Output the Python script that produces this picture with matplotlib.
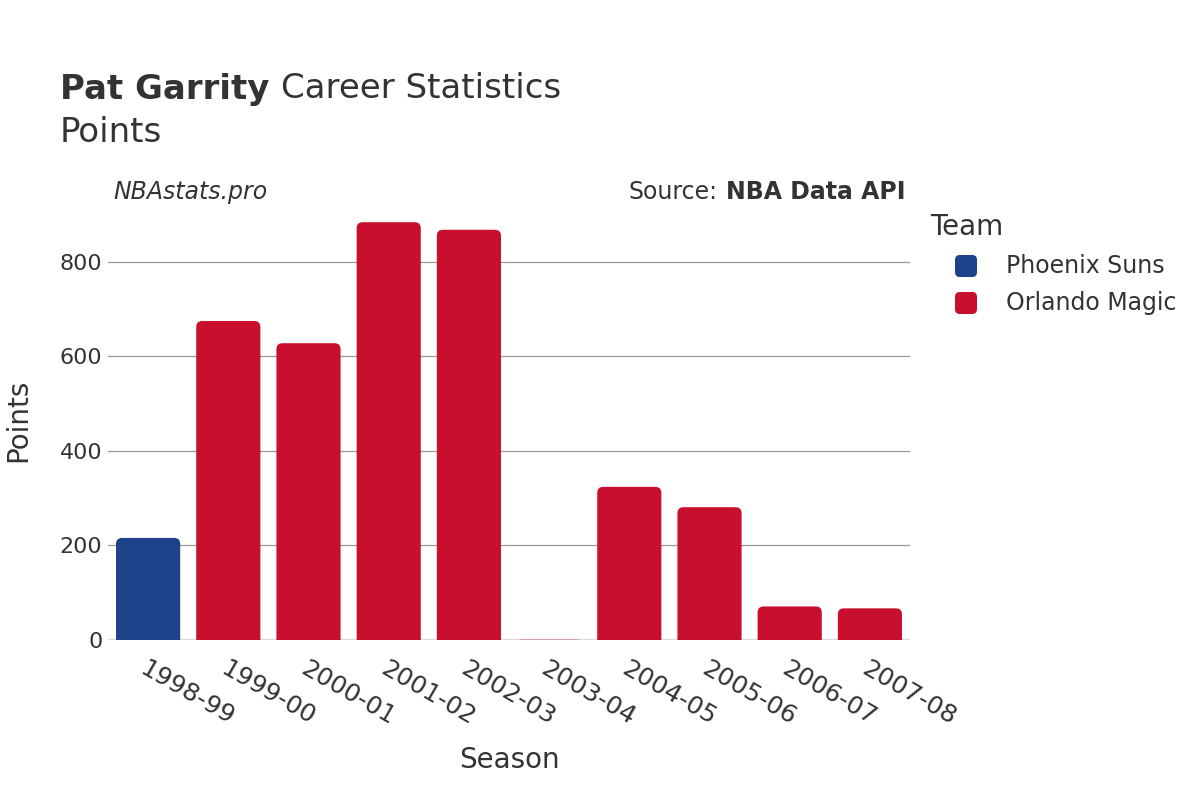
import matplotlib
matplotlib.use("Agg")
import matplotlib.pyplot as plt
from matplotlib.patches import FancyBboxPatch

seasons = ["1998-99", "1999-00", "2000-01", "2001-02", "2002-03",
           "2003-04", "2004-05", "2005-06", "2006-07", "2007-08"]
points = [216, 675, 628, 884, 868, 2, 324, 281, 71, 67]
teams = ["Phoenix Suns", "Orlando Magic", "Orlando Magic", "Orlando Magic", "Orlando Magic",
         "Orlando Magic", "Orlando Magic", "Orlando Magic", "Orlando Magic", "Orlando Magic"]
team_colors = {"Phoenix Suns": "#1D428A", "Orlando Magic": "#C8102E"}
legend_teams = ["Phoenix Suns", "Orlando Magic"]
yticks = [0, 200, 400, 600, 800]

W, H = 1200, 800
plt.rcParams['font.family'] = ['DejaVu Sans']
fig = plt.figure(figsize=(12, 8), dpi=100)
ax = fig.add_axes([108 / W, 1 - 640 / H, (910 - 108) / W, (640 - 200) / H])
ymax = 931
ax.set_xlim(-0.5, len(seasons) - 0.5)
ax.set_ylim(0, ymax)

x = list(range(len(seasons)))
bars = ax.bar(x, points, width=0.8, color=[team_colors[t] for t in teams], zorder=2)

bbox = ax.get_position()
px_w = bbox.width * W
px_h = bbox.height * H
xu_per_px = len(seasons) / px_w
yu_per_px = ymax / px_h
aspect = yu_per_px / xu_per_px
r = 6 * xu_per_px
for b in bars:
    b.set_visible(False)
    x0, w, h = b.get_x(), b.get_width(), b.get_height()
    ext = 8 * yu_per_px
    rr = min(r, (h + ext) / aspect / 2)
    p = FancyBboxPatch((x0, -ext), w, h + ext,
                       boxstyle=f"round,pad=0,rounding_size={rr}",
                       mutation_aspect=aspect, facecolor=b.get_facecolor(),
                       edgecolor="none", zorder=2, clip_on=True,
                       alpha=1.0 if h > 5 else 0.3)
    ax.add_patch(p)

ax.set_yticks(yticks)
ax.yaxis.grid(True, color="#999999", linewidth=0.9, zorder=0)
ax.axhline(0, color="#e6e6e6", linewidth=2.5, zorder=1)
for s in ax.spines.values():
    s.set_visible(False)
ax.tick_params(axis="both", length=0, colors="#333333")
ax.tick_params(axis="y", labelsize=16, pad=4)
ax.set_xticks(x)
ax.set_xticklabels(seasons, rotation=-30, ha="left", va="top", rotation_mode="anchor")
ax.tick_params(axis="x", labelsize=18, pad=12)

ax.set_xlabel("Season", fontsize=20, color="#333333", labelpad=12)
ax.set_ylabel("Points", fontsize=20, color="#333333", labelpad=20)

c = "#333333"
t1 = fig.text(60 / W, 1 - 89 / H, "Pat Garrity", fontsize=24.5, fontweight="bold", color=c, va="center")
fig.canvas.draw()
rend = fig.canvas.get_renderer()
bb = t1.get_window_extent(rend)
fig.text(bb.x1 / W + 12 / W, 1 - 89 / H, "Career Statistics", fontsize=24.5, color=c, va="center")
fig.text(60 / W, 1 - 133 / H, "Points", fontsize=24.5, color=c, va="center")
fig.text(113 / W, 1 - 192 / H, "NBAstats.pro", fontsize=17, style="italic", color=c, va="center")
t2 = fig.text(906 / W, 1 - 192 / H, "NBA Data API", fontsize=17, fontweight="bold", color=c,
              va="center", ha="right")
bb2 = t2.get_window_extent(rend)
fig.text(bb2.x0 / W - 9 / W, 1 - 192 / H, "Source:", fontsize=17, color=c, va="center", ha="right")

# legend
fig.text(930 / W, 1 - 227 / H, "Team", fontsize=20, color=c, va="center")
for i, t in enumerate(legend_teams):
    yc = 266 + 37 * i
    sz = 22
    p = FancyBboxPatch(((966 - sz / 2) / W, 1 - (yc + sz / 2) / H), sz / W, sz / H,
                       boxstyle="round,pad=0,rounding_size=0.004", mutation_aspect=W / H,
                       transform=fig.transFigure, facecolor=team_colors[t], edgecolor="none")
    fig.add_artist(p)
    fig.text(1006 / W, 1 - yc / H, t, fontsize=17, color=c, va="center")

fig.savefig("out.png", dpi=100)
